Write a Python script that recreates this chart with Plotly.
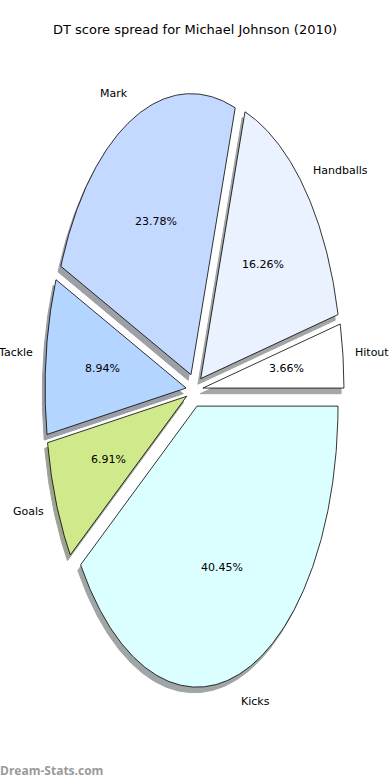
import numpy as np
import plotly.graph_objects as go

# ---- data ----
labels = ["Hitout", "Handballs", "Mark", "Tackle", "Goals", "Kicks"]
values = [3.66, 16.26, 23.78, 8.94, 6.91, 40.45]
pct_text = ["3.66%", "16.26%", "23.78%", "8.94%", "6.91%", "40.45%"]
colors = ["#ffffff", "#eaf1ff", "#c4d9ff", "#b4d5ff", "#d0ea8b", "#dbffff"]
title = "DT score spread for Michael Johnson (2010)"
footer = "Dream-Stats.com"

# ---- style / geometry ----
explode = 0.06
shadow_dx, shadow_dy = -0.02, -0.02
label_dist, pct_dist = 1.1, 0.6
FONT = "DejaVu Sans"

total = float(sum(values))
fracs = [v / total for v in values]

fig = go.Figure()


def shade(hexcol):
    h = hexcol.lstrip("#")
    r, g, b = (int(h[i:i + 2], 16) / 255 for i in (0, 2, 4))
    # matplotlib Shadow: 0.3 * color, alpha 0.5 over white
    mix = lambda c: int(round((0.5 * 0.3 * c + 0.5) * 255))
    return "rgb(%d,%d,%d)" % (mix(r), mix(g), mix(b))


wedges = []
theta = 0.0
for lab, f, col, pt in zip(labels, fracs, colors, pct_text):
    t1 = theta
    t2 = theta + 360.0 * f
    mid = np.deg2rad((t1 + t2) / 2)
    cx = explode * np.cos(mid)
    cy = explode * np.sin(mid)
    n = max(int(abs(t2 - t1) * 2), 8)
    ang = np.deg2rad(np.linspace(t1, t2, n))
    xs = np.concatenate([[cx], cx + np.cos(ang), [cx]])
    ys = np.concatenate([[cy], cy + np.sin(ang), [cy]])
    wedges.append((lab, col, pt, xs, ys, cx, cy, mid))
    theta = t2

# shadows first
for lab, col, pt, xs, ys, cx, cy, mid in wedges:
    fig.add_trace(go.Scatter(
        x=xs + shadow_dx, y=ys + shadow_dy, mode="lines", fill="toself",
        fillcolor=shade(col), line=dict(color=shade(col), width=1),
        hoverinfo="skip", showlegend=False))

for lab, col, pt, xs, ys, cx, cy, mid in wedges:
    fig.add_trace(go.Scatter(
        x=xs, y=ys, mode="lines", fill="toself", fillcolor=col,
        line=dict(color="#000000", width=0.8),
        hoverinfo="skip", showlegend=False))
    lx = cx + label_dist * np.cos(mid)
    ly = cy + label_dist * np.sin(mid)
    right = lx > 0
    fig.add_annotation(x=lx, y=ly, text=lab, showarrow=False,
                       xanchor="left" if right else "right", yanchor="middle",
                       borderpad=0, xshift=-3 if right else 2,
                       font=dict(family=FONT, size=11, color="#000000"))
    px = cx + pct_dist * np.cos(mid)
    py = cy + pct_dist * np.sin(mid)
    fig.add_annotation(x=px, y=py, text=pt, showarrow=False,
                       xanchor="center", yanchor="middle", borderpad=0,
                       font=dict(family=FONT, size=11, color="#000000"))

fig.add_annotation(xref="paper", yref="paper", x=0.5, y=1 - 30 / 780,
                   text=title, showarrow=False, xanchor="center", yanchor="middle",
                   borderpad=0,
                   font=dict(family=FONT, size=13, color="#000000"))
fig.add_annotation(xref="paper", yref="paper", x=0.0, y=1 - 770 / 780,
                   text="<b>" + footer + "</b>", showarrow=False,
                   xanchor="left", yanchor="middle", borderpad=0, xshift=-1,
                   font=dict(family="Open Sans", size=12, color="#9a9a9a"))

fig.update_layout(
    width=390, height=780,
    margin=dict(l=0, r=0, t=0, b=0),
    paper_bgcolor="white", plot_bgcolor="white",
    showlegend=False,
    xaxis=dict(range=[-194.5 / 141, 195.5 / 141], visible=False, fixedrange=True),
    yaxis=dict(range=[-390 / 281, 390 / 281], visible=False, fixedrange=True),
)

fig.write_html(
    "out.html",
    config={"displayModeBar": False},
    post_script="document.body.style.margin='0';document.body.style.overflow='hidden';",
)
